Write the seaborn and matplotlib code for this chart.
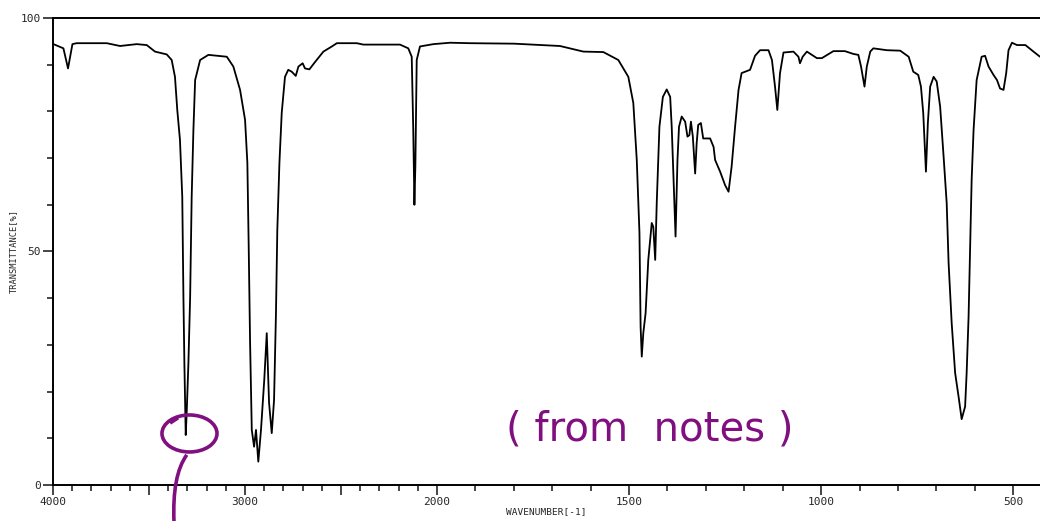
import numpy as np
import pandas as pd
import seaborn as sns
import matplotlib.pyplot as plt
from matplotlib.patches import Ellipse, PathPatch
from matplotlib.path import Path

# IR spectrum (wavenumber in cm-1, transmittance in %)
wavenumber = [
    3998, 3946, 3922, 3899, 3877, 3720, 3651, 3564, 3512, 3469, 3408, 3382,
    3365, 3353, 3339, 3327, 3321, 3316, 3309, 3304, 3295, 3286, 3278, 3269,
    3260, 3234, 3191, 3095, 3061, 3026, 3000, 2988, 2981, 2974, 2965, 2953,
    2943, 2931, 2917, 2900, 2887, 2875, 2861, 2849, 2839, 2832, 2821, 2809,
    2792, 2775, 2757, 2736, 2722, 2700, 2688, 2665, 2635, 2592, 2548, 2522,
    2418, 2384, 2193, 2150, 2132, 2124, 2118, 2113, 2106, 2089, 2019, 1966,
    1914, 1800, 1680, 1619, 1567, 1528, 1502, 1489, 1480, 1473, 1470, 1467, 1463,
    1457, 1450, 1441, 1437, 1432, 1428, 1421, 1412, 1402, 1393, 1389, 1383,
    1379, 1374, 1370, 1363, 1354, 1348, 1343, 1339, 1334, 1328, 1324, 1320,
    1313, 1307, 1289, 1280, 1276, 1263, 1250, 1241, 1233, 1224, 1215, 1207,
    1185, 1172, 1159, 1137, 1128, 1120, 1114, 1107, 1098, 1072, 1059, 1055,
    1048, 1037, 1011, 998, 968, 938, 916, 903, 896, 887, 881, 872,
    864, 829, 794, 772, 760, 747, 740, 734, 727, 722, 716, 707,
    699, 690, 681, 673, 668, 660, 651, 642, 634, 625, 621, 616,
    612, 608, 603, 595, 582, 573, 564, 551, 542, 534, 525, 518,
    512, 503, 490, 468, 447, 430,
]
transmittance = [
    94.4, 93.5, 89.2, 94.4, 94.6, 94.6, 94.0, 94.4, 94.2, 92.8, 92.2, 91.0,
    87.4, 80.3, 73.9, 61.7, 40.3, 26.1, 10.7, 15.4, 26.1, 40.3, 61.7, 76.0,
    86.7, 91.0, 92.1, 91.7, 89.6, 84.6, 78.2, 69.0, 51.0, 31.0, 11.8, 8.2,
    11.8, 5.0, 11.8, 22.5, 32.5, 17.6, 11.1, 18.2, 36.8, 54.6, 69.0, 79.7,
    87.4, 88.9, 88.5, 87.6, 89.6, 90.3, 89.2, 89.0, 90.6, 92.8, 93.9, 94.6,
    94.6, 94.3, 94.3, 93.5, 91.7, 76.0, 60.0, 68.5, 91.0, 93.9, 94.4, 94.7,
    94.6, 94.5, 94.0, 92.8, 92.7, 91.0, 87.4, 81.8, 69.6, 54.0, 33.9, 27.5, 32.5,
    36.8, 48.2, 56.1, 55.3, 48.2, 60.4, 76.7, 83.1, 84.7, 83.1, 76.7, 62.5,
    53.2, 69.6, 76.7, 78.9, 77.8, 74.6, 74.9, 77.8, 74.6, 66.7, 73.2, 77.1,
    77.5, 74.2, 74.2, 72.4, 69.6, 67.1, 64.2, 62.8, 68.2, 76.7, 84.6, 88.2,
    88.9, 91.9, 93.1, 93.1, 91.0, 85.3, 80.3, 88.2, 92.6, 92.8, 91.7, 90.3,
    91.7, 92.8, 91.4, 91.4, 92.9, 92.9, 92.3, 92.1, 89.6, 85.3, 89.6, 92.8,
    93.5, 93.1, 93.0, 91.7, 88.5, 87.8, 85.3, 79.6, 67.1, 77.5, 85.3, 87.4,
    86.4, 81.0, 70.3, 60.4, 47.5, 34.7, 24.0, 18.9, 14.1, 16.8, 24.0, 36.0,
    51.0, 65.3, 76.0, 86.7, 91.7, 91.9, 89.6, 87.8, 86.7, 84.9, 84.6, 88.2,
    93.1, 94.7, 94.2, 94.2, 92.8, 91.7,
]

x_labeled = [4000, 3000, 2000, 1500, 1000, 500]
x_unlabeled = [3500, 2500]
y_ticks = [0, 50, 100]

spectrum = pd.DataFrame({"wavenumber": wavenumber, "transmittance": transmittance})

sns.set_style("ticks")
plt.rcParams["font.family"] = ["DejaVu Sans Mono", "DejaVu Sans"]

fig = plt.figure(figsize=(10.4, 5.21), dpi=100)
ax = fig.add_axes([0.051, 0.0691, 0.949, 0.8964])

sns.lineplot(data=spectrum, x="wavenumber", y="transmittance", ax=ax,
             color="black", linewidth=1.3, sort=False, estimator=None)


# spectrometer chart: scale doubles below 2000 cm-1
def fwd(x):
    x = np.asarray(x, dtype=float)
    return np.where(x >= 2000, x, 2 * x - 2000)


def inv(v):
    v = np.asarray(v, dtype=float)
    return np.where(v >= 2000, v, (v + 2000) / 2)


ax.set_xscale("function", functions=(fwd, inv))
ax.set_xlim(4000, 430)
ax.set_ylim(0, 100)

ticks = sorted(x_labeled + x_unlabeled, reverse=True)
ax.set_xticks(ticks)
ax.set_xticklabels([str(t) if t in x_labeled else "" for t in ticks])
ax.set_xticks(list(range(500, 4000, 100)), minor=True)
ax.set_yticks(y_ticks)
ax.set_yticklabels([str(t) for t in y_ticks])
ax.set_yticks(list(range(10, 100, 10)), minor=True)

ax.tick_params(axis="both", which="major", length=7, width=1.2,
               labelsize=8, pad=2, direction="out")
ax.tick_params(axis="both", which="minor", length=4, width=1.2, direction="out")

for side in ["top", "left", "bottom"]:
    ax.spines[side].set_linewidth(1.4)
    ax.spines[side].set_color("black")
ax.spines["right"].set_visible(False)

ax.set_xlabel("WAVENUMBER[-1]", fontsize=6.8, labelpad=0)
ax.set_ylabel("TRANSMITTANCE[%]", fontsize=6.2, labelpad=2)

# handwritten note in purple
pen = "#80107f"
fig.text(0.625, 0.175, "( from  notes )", color=pen, fontsize=29,
         family=["DejaVu Sans"], ha="center", va="center")

fig.patches.append(Ellipse((0.1822, 0.168), 0.0529, 0.071, fill=False,
                           edgecolor=pen, linewidth=2.6,
                           transform=fig.transFigure, figure=fig))
tail = Path([(0.1796, 0.127), (0.1654, 0.088), (0.1673, -0.002)],
            [Path.MOVETO, Path.CURVE3, Path.CURVE3])
fig.patches.append(PathPatch(tail, fill=False, edgecolor=pen, linewidth=2.6,
                             transform=fig.transFigure, figure=fig))
hook = Path([(0.1635, 0.188), (0.1712, 0.198)], [Path.MOVETO, Path.LINETO])
fig.patches.append(PathPatch(hook, fill=False, edgecolor=pen, linewidth=2.6,
                             transform=fig.transFigure, figure=fig))

fig.savefig("out.png", dpi=100)
